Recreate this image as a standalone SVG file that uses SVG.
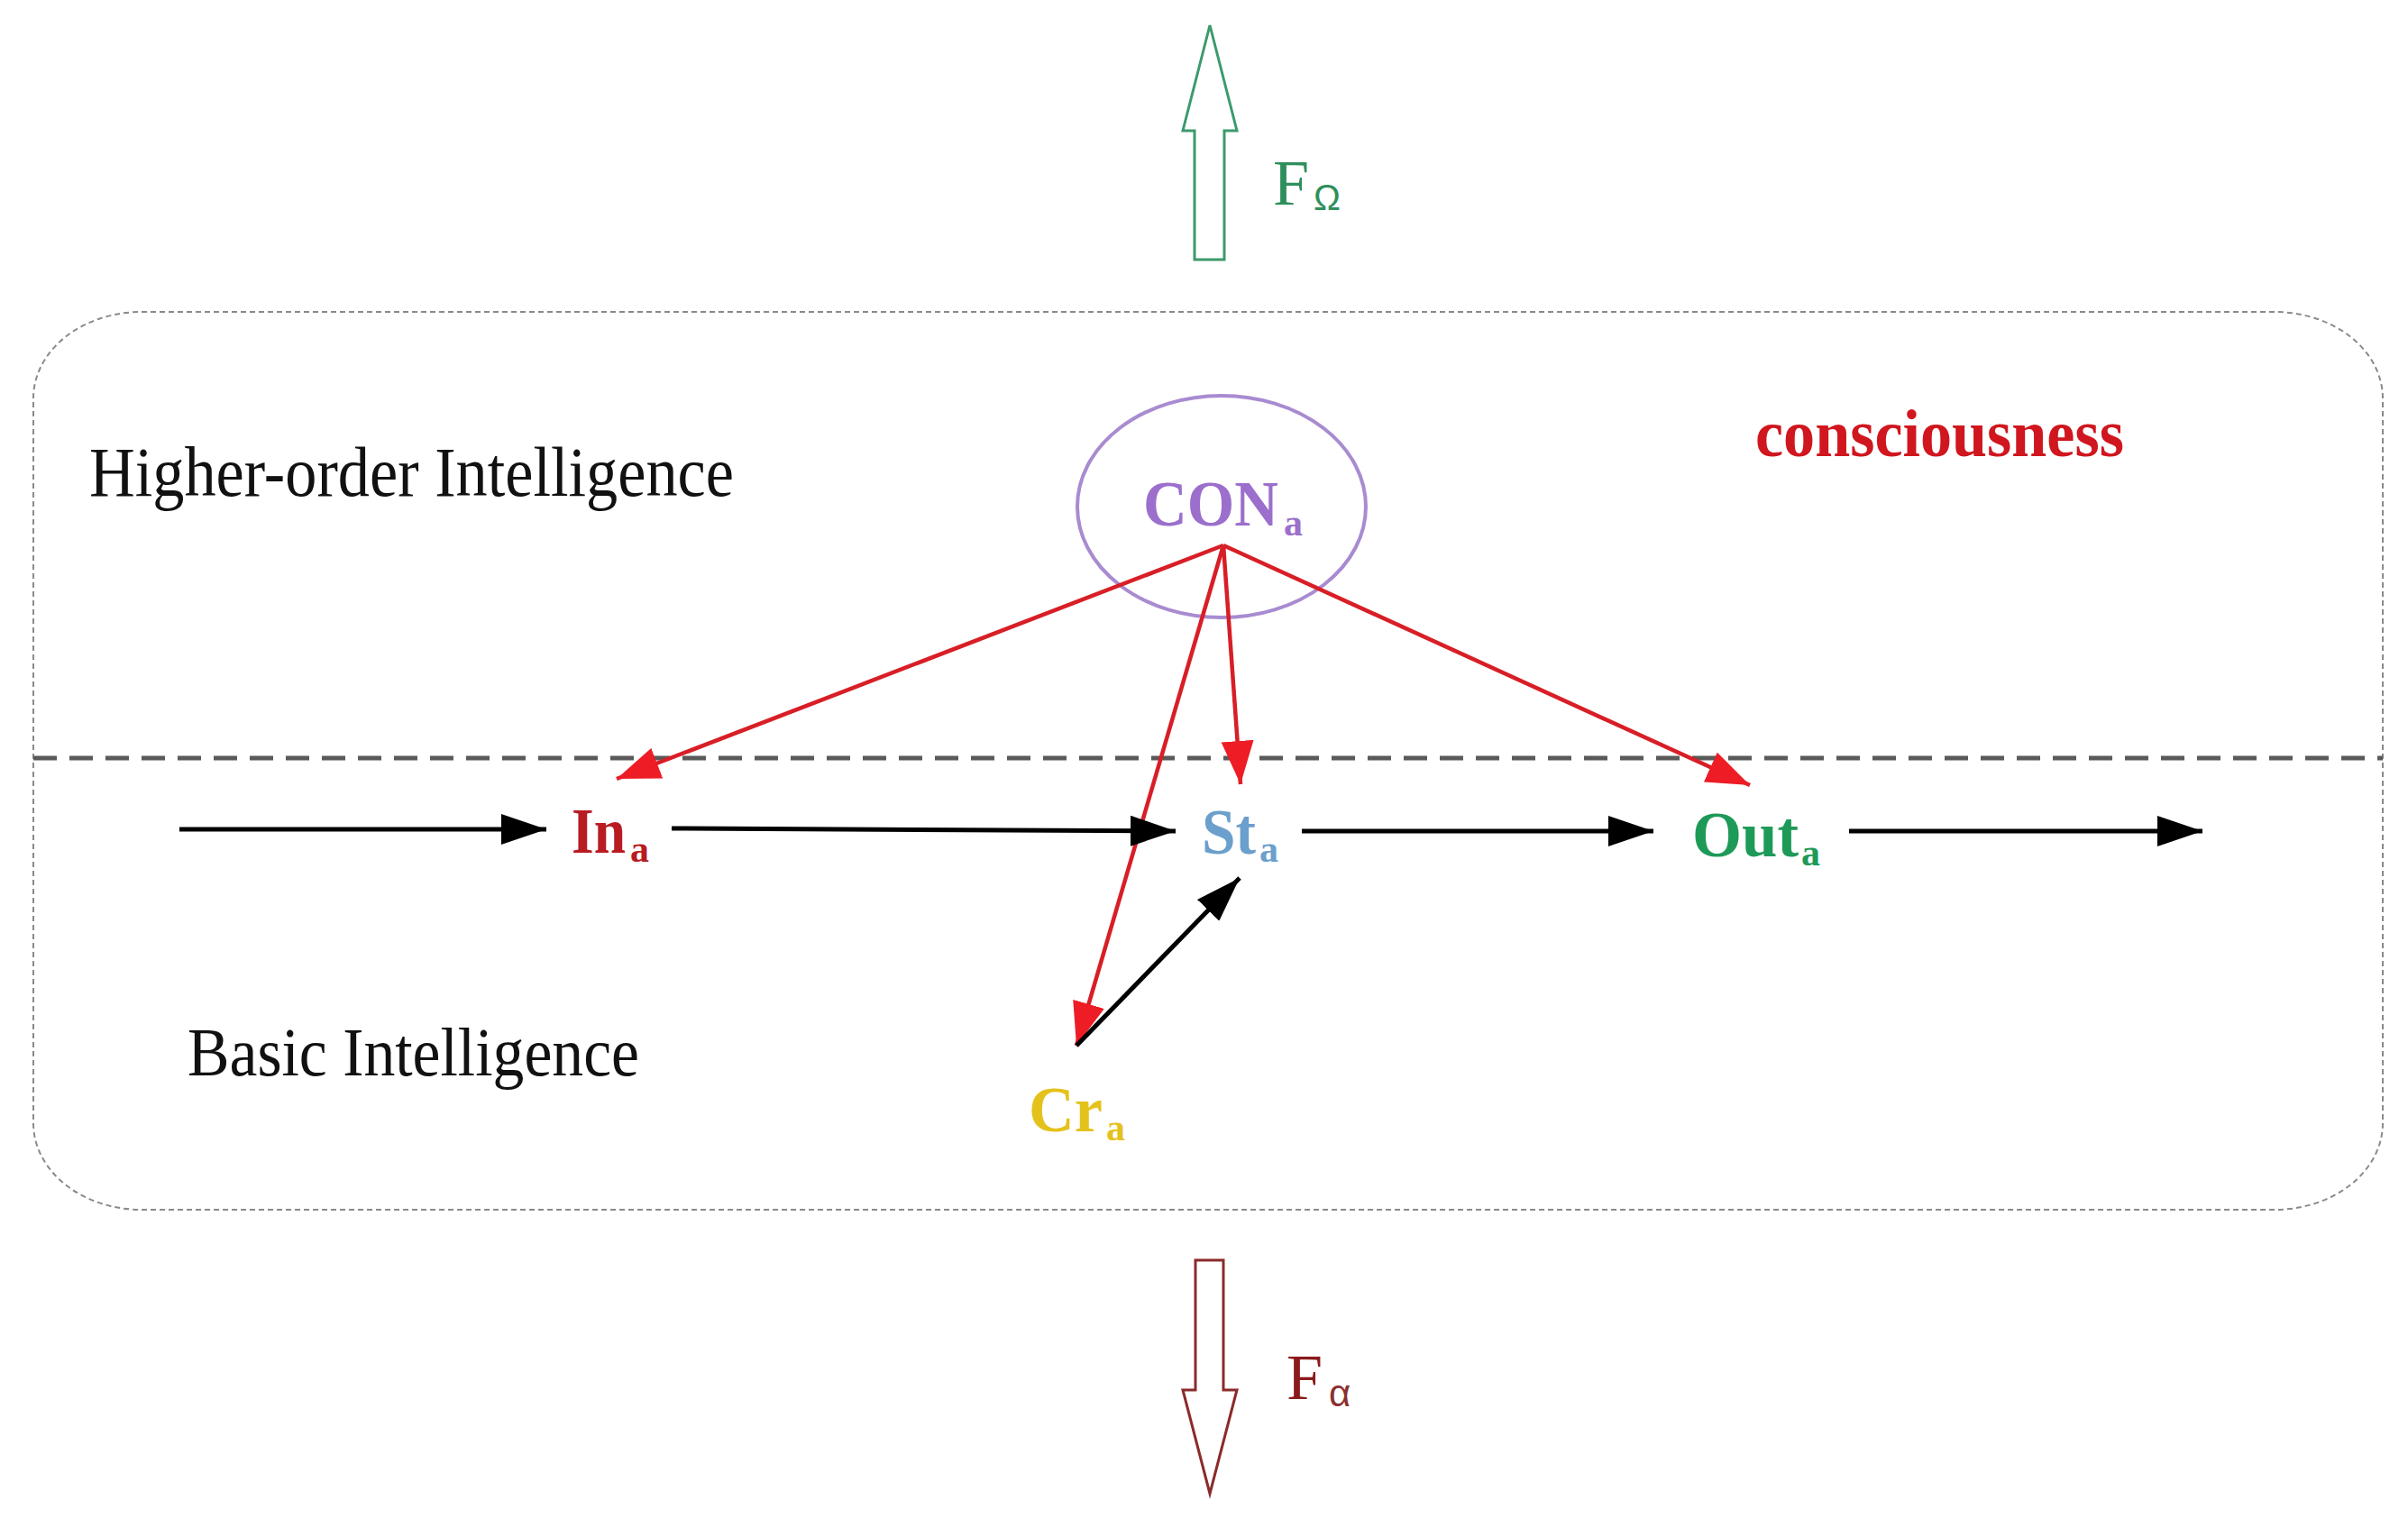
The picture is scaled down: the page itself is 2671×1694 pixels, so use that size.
<svg xmlns="http://www.w3.org/2000/svg" width="2671" height="1694" viewBox="0 0 2671 1694">
<style>
.lbl{font-family:"Liberation Serif","Times New Roman",serif;}
.b{font-weight:bold;}
.red{stroke:#d81e26;stroke-width:4.5;fill:none;}
.blk{stroke:#000;stroke-width:5;fill:none;}
</style>
<defs>
<marker id="hr" markerUnits="userSpaceOnUse" markerWidth="48" markerHeight="36" refX="48" refY="18" orient="auto">
<path d="M0,0 L48,18 L0,36 z" fill="#ee1c24"/>
</marker>
<marker id="hb" markerUnits="userSpaceOnUse" markerWidth="50" markerHeight="34" refX="50" refY="17" orient="auto">
<path d="M0,0 L50,17 L0,34 z" fill="#000"/>
</marker>
</defs>
<rect width="2671" height="1694" fill="#fff"/>
<g id="frame">
<rect x="37" y="346" width="2606" height="996" rx="120" ry="96" fill="none" stroke="#8a8a8a" stroke-width="2" stroke-dasharray="6 4"/>
<line x1="37" y1="841" x2="2643" y2="841" stroke="#5a5a5a" stroke-width="5" stroke-dasharray="26 14"/>
</g>
<g id="force-up">
<polygon points="1342,28 1372,145 1358,145 1358,288 1325,288 1325,145 1312,145" fill="#fff" stroke="#3c9a6c" stroke-width="3"/>
<text class="lbl" x="1412" y="227" font-size="72" fill="#2f8f5c">F</text>
<text x="1457" y="233" font-family="Liberation Sans,Arial,sans-serif" font-size="40" fill="#2f8f5c">Ω</text>
</g>
<g id="force-down">
<polygon points="1326,1398 1357,1398 1357,1542 1372,1542 1342,1657 1312,1542 1326,1542" fill="#fff" stroke="#8b2a2a" stroke-width="3"/>
<text class="lbl" x="1427" y="1552" font-size="72" fill="#8b1a1a">F</text>
<text x="1474" y="1560" font-family="Liberation Sans,Arial,sans-serif" font-size="42" fill="#8b3030">α</text>
</g>
<g id="region-labels">
<text class="lbl" x="99" y="550" font-size="78" textLength="715" lengthAdjust="spacingAndGlyphs" fill="#111">Higher-order Intelligence</text>
<text class="lbl" x="208" y="1193" font-size="76" textLength="501" lengthAdjust="spacingAndGlyphs" fill="#111">Basic Intelligence</text>
<text class="lbl b" x="1947" y="506" font-size="74" textLength="409" lengthAdjust="spacingAndGlyphs" fill="#d0161e">consciousness</text>
</g>
<g id="node-con">
<ellipse cx="1355" cy="562" rx="160" ry="123" fill="none" stroke="#a88bd0" stroke-width="4"/>
<text class="lbl b" x="1268" y="583" font-size="72" textLength="150" lengthAdjust="spacingAndGlyphs" fill="#9b6fcb">CON</text>
<text class="lbl b" x="1424" y="594" font-size="42" fill="#9b6fcb">a</text>
</g>
<g id="node-in">
<text class="lbl b" x="634" y="946" font-size="72" textLength="60" lengthAdjust="spacingAndGlyphs" fill="#b81c22">In</text>
<text class="lbl b" x="699" y="956" font-size="42" fill="#b81c22">a</text>
</g>
<g id="node-st">
<text class="lbl b" x="1333" y="947" font-size="72" textLength="60" lengthAdjust="spacingAndGlyphs" fill="#6b9fcc">St</text>
<text class="lbl b" x="1397" y="956" font-size="42" fill="#6b9fcc">a</text>
</g>
<g id="node-out">
<text class="lbl b" x="1877" y="950" font-size="72" textLength="118" lengthAdjust="spacingAndGlyphs" fill="#1e9a58">Out</text>
<text class="lbl b" x="1998" y="960" font-size="42" fill="#1e9a58">a</text>
</g>
<g id="node-cr">
<text class="lbl b" x="1141" y="1255" font-size="72" textLength="82" lengthAdjust="spacingAndGlyphs" fill="#e4c21c">Cr</text>
<text class="lbl b" x="1227" y="1265" font-size="42" fill="#e4c21c">a</text>
</g>
<g id="connectors">
<line class="red" x1="1357" y1="605" x2="684" y2="864" marker-end="url(#hr)"/>
<line class="red" x1="1357" y1="605" x2="1376" y2="870" marker-end="url(#hr)"/>
<line class="red" x1="1357" y1="605" x2="1941" y2="871" marker-end="url(#hr)"/>
<line class="red" x1="1357" y1="605" x2="1194" y2="1160" marker-end="url(#hr)"/>
<line class="blk" x1="199" y1="920" x2="606" y2="920" marker-end="url(#hb)"/>
<line class="blk" x1="745" y1="919" x2="1304" y2="922" marker-end="url(#hb)"/>
<line class="blk" x1="1444" y1="922" x2="1834" y2="922" marker-end="url(#hb)"/>
<line class="blk" x1="2051" y1="922" x2="2443" y2="922" marker-end="url(#hb)"/>
<line class="blk" x1="1194" y1="1160" x2="1375" y2="974" marker-end="url(#hb)"/>
</g>
</svg>
